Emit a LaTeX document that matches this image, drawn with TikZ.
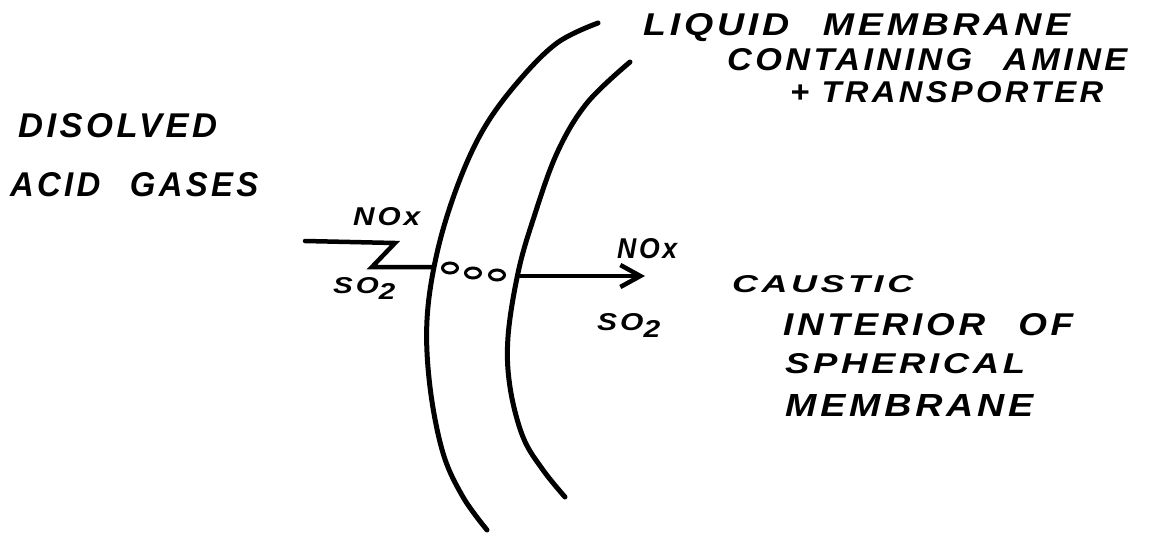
\documentclass[tikz,border=0pt]{standalone}
\usepackage{fontspec}
\usepackage{graphicx}
\usetikzlibrary{arrows.meta,shapes.geometric}
\newfontfamily\hand{Liberation Sans}[LetterSpace=10]
\newcommand\hw[3]{\resizebox{#1}{#2}{\hand\bfseries\itshape #3}}
\newcommand\sotwo{SO\raisebox{-0.3em}{2}}
\newcommand\gap{\hspace{0.9em}}
\begin{document}
\begin{tikzpicture}[x=1pt,y=-1pt,
  lbl/.style={inner sep=0pt,anchor=base west},
  membrane/.style={line width=5pt,line cap=round},
  flow/.style={line width=4.5pt,line cap=round,line join=miter},
  molecule/.style={ellipse,draw,line width=3pt,minimum width=15pt,minimum height=10pt,inner sep=0pt}]
\useasboundingbox (0,0) rectangle (1165,533);
% membrane walls
\draw[membrane] plot[smooth,tension=0.6] coordinates {(598,23) (557,43) (517,83) (483,130) (457,187) (437,253) (427,320) (430,387) (443,453) (463,497) (487,530)};
\draw[membrane] plot[smooth,tension=0.6] coordinates {(630,62) (587,103) (557,153) (533,220) (518,273) (508,337) (510,387) (523,437) (543,470) (565,497)};
% labels
\node[lbl] (liq) at (643,35) {\hw{427pt}{22pt}{LIQUID\gap MEMBRANE}};
\node[lbl] (cont) at (727,70) {\hw{400pt}{22pt}{CONTAINING\gap AMINE}};
\node[lbl] (trans) at (790,102) {\hw{313pt}{21pt}{+ TRANSPORTER}};
\node[lbl] (dis) at (18,137) {\hw{199pt}{24pt}{DISOLVED}};
\node[lbl] (acid) at (10,196) {\hw{248pt}{24pt}{ACID\gap GASES}};
\node[lbl] (caus) at (732,292) {\hw{181pt}{17pt}{CAUSTIC}};
\node[lbl] (inter) at (783,335) {\hw{290pt}{22pt}{INTERIOR\gap OF}};
\node[lbl] (sph) at (785,373) {\hw{240pt}{20pt}{SPHERICAL}};
\node[lbl] (memb) at (785,416) {\hw{248pt}{22pt}{MEMBRANE}};
\node[lbl] (noxl) at (353,225) {\hw{67pt}{18pt}{NOx}};
\node[lbl] (so2l) at (333,293) {\hw{62pt}{16pt}{\sotwo}};
\node[lbl] (noxr) at (617,258) {\hw{60pt}{20pt}{NOx}};
\node[lbl] (so2r) at (597,330) {\hw{63pt}{17pt}{\sotwo}};
% carrier molecules
\node[molecule] (m1) at (450,268) {};
\node[molecule] (m2) at (473,273) {};
\node[molecule] (m3) at (497,275) {};
% flows
\coordinate (inA) at (305,241);
\coordinate (inB) at (395,243);
\coordinate (inC) at (372,267);
\coordinate (inD) at (432,267);
\coordinate (outA) at (520,276);
\coordinate (outB) at (645,276);
\draw[flow] (inA) -- (inB) -- (inC) -- (inD);
\draw[flow,-{Straight Barb[length=20pt,width=22pt]}] (outA) -- (outB);
\end{tikzpicture}
\end{document}
